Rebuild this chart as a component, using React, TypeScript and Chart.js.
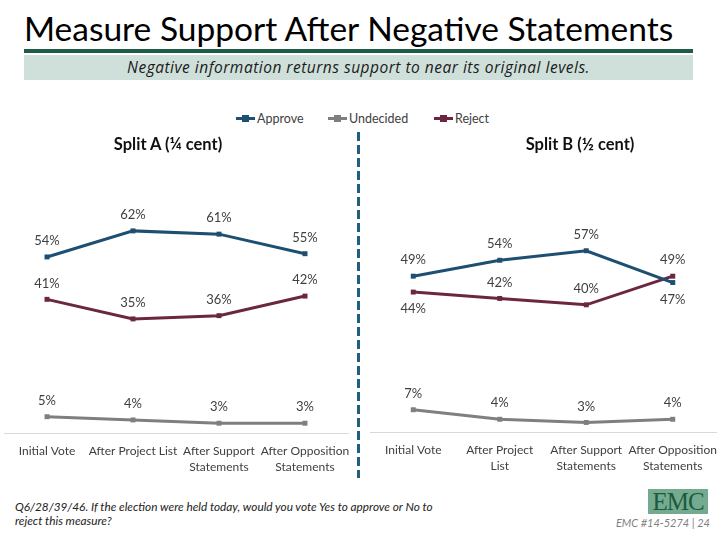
import React, { useEffect, useRef } from "react";
import { Chart, registerables } from "chart.js";

Chart.register(...registerables);

const categoriesA: (string | string[])[] = [
  "Initial Vote",
  "After Project List",
  ["After Support", "Statements"],
  ["After Opposition", "Statements"],
];
const categoriesB: (string | string[])[] = [
  "Initial Vote",
  ["After Project", "List"],
  ["After Support", "Statements"],
  ["After Opposition", "Statements"],
];

const approveA = [54, 62, 61, 55];
const undecidedA = [5, 4, 3, 3];
const rejectA = [41, 35, 36, 42];

const approveB = [49, 54, 57, 47];
const undecidedB = [7, 4, 3, 4];
const rejectB = [44, 42, 40, 49];

// label placement per point (above / below)
const approveBPos = ["above", "above", "above", "below"];
const rejectBPos = ["below", "above", "above", "above"];
const allAbove = ["above", "above", "above", "above"];

const seriesNames = ["Approve", "Undecided", "Reject"];
const seriesColors = ["#1d4f73", "#7f7f7f", "#6b2741"];

const FONT = "Lato, 'Open Sans', sans-serif";

const pointLabelPlugin = {
  id: "pointLabels",
  afterDatasetsDraw(chart: any) {
    const opts = chart.options.plugins.pointLabels || {};
    const positions: string[][] = opts.positions || [];
    const ctx = chart.ctx;
    ctx.save();
    ctx.font = `13px ${FONT}`;
    ctx.fillStyle = "#404040";
    ctx.textAlign = "center";
    ctx.textBaseline = "middle";
    chart.data.datasets.forEach((ds: any, i: number) => {
      const meta = chart.getDatasetMeta(i);
      meta.data.forEach((pt: any, j: number) => {
        const pos = (positions[i] && positions[i][j]) || "above";
        const y = pos === "below" ? pt.y + 17 : pt.y - 16;
        ctx.fillText(`${ds.data[j]}%`, pt.x, y);
      });
    });
    ctx.restore();
  },
};

function LineChart(props: {
  labels: (string | string[])[];
  series: number[][];
  positions: string[][];
  width: number;
  height: number;
  padTop: number;
  padRight: number;
  style: React.CSSProperties;
}) {
  const ref = useRef<HTMLCanvasElement | null>(null);
  useEffect(() => {
    if (!ref.current) return;
    const chart = new Chart(ref.current, {
      type: "line",
      data: {
        labels: props.labels as any,
        datasets: props.series.map((d, i) => ({
          label: seriesNames[i],
          data: d,
          borderColor: seriesColors[i],
          backgroundColor: seriesColors[i],
          borderWidth: 3,
          pointStyle: "rect",
          pointRadius: 3.5,
          pointBorderWidth: 0,
          tension: 0,
          fill: false,
        })),
      },
      options: {
        animation: false,
        responsive: false,
        layout: { padding: { top: props.padTop, right: props.padRight, left: 0, bottom: 0 } },
        plugins: {
          legend: { display: false },
          tooltip: { enabled: false },
          pointLabels: { positions: props.positions },
        } as any,
        scales: {
          x: {
            offset: true,
            grid: { display: false, drawTicks: false },
            border: { display: true, color: "#d9d9d9", width: 1 },
            ticks: {
              color: "#404040",
              font: { family: FONT, size: 12, lineHeight: 1.35 },
              padding: 10,
              maxRotation: 0,
              minRotation: 0,
              autoSkip: false,
            },
            afterFit: (scale: any) => {
              scale.height = 50;
              scale.paddingLeft = 0;
              scale.paddingRight = 0;
            },
          },
          y: {
            display: false,
            min: 0,
            max: 100,
          },
        },
      },
      plugins: [pointLabelPlugin],
    });
    return () => chart.destroy();
  }, []);
  return (
    <canvas
      ref={ref}
      width={props.width}
      height={props.height}
      style={{ position: "absolute", width: props.width, height: props.height, ...props.style }}
    />
  );
}

function LegendItem(props: { left: number; color: string; text: string }) {
  return (
    <div
      style={{
        position: "absolute",
        left: props.left,
        top: 110,
        height: 16,
        display: "flex",
        alignItems: "center",
        fontSize: 12.5,
        color: "#404040",
        fontFamily: FONT,
      }}
    >
      <div style={{ position: "relative", width: 19, height: 16, marginRight: 2 }}>
        <div style={{ position: "absolute", left: 0, top: 7, width: 19, height: 2.5, background: props.color }} />
        <div style={{ position: "absolute", left: 6, top: 4.5, width: 7, height: 7, background: props.color }} />
      </div>
      <span>{props.text}</span>
    </div>
  );
}

export default function App() {
  return (
    <div
      style={{
        position: "absolute",
        left: 0,
        top: 0,
        width: 720,
        height: 540,
        background: "#ffffff",
        overflow: "hidden",
        fontFamily: FONT,
      }}
    >
      <div
        style={{
          position: "absolute",
          left: 24,
          top: 8,
          height: 40,
          lineHeight: "40px",
          fontSize: 33.5,
          fontWeight: 400,
          color: "#000",
          whiteSpace: "nowrap",
        }}
      >
        Measure Support After Negative Statements
      </div>
      <div style={{ position: "absolute", left: 24, top: 49, width: 669, height: 4, background: "#1e5c45" }} />
      <div
        style={{
          position: "absolute",
          left: 24,
          top: 55,
          width: 669,
          height: 25,
          background: "#cfe0da",
          textAlign: "center",
          lineHeight: "25px",
          fontSize: 15.5,
          fontFamily: "'Open Sans', sans-serif",
          fontStyle: "italic",
          letterSpacing: 0.5,
          color: "#1a1a1a",
          whiteSpace: "nowrap",
        }}
      >
        Negative information returns support to near its original levels.
      </div>

      <LegendItem left={236} color={seriesColors[0]} text="Approve" />
      <LegendItem left={328} color={seriesColors[1]} text="Undecided" />
      <LegendItem left={434} color={seriesColors[2]} text="Reject" />

      <LineChart
        labels={categoriesA}
        series={[approveA, undecidedA, rejectA]}
        positions={[allAbove, allAbove, allAbove]}
        width={352}
        height={393}
        padTop={17}
        padRight={4}
        style={{ left: 0, top: 90 }}
      />
      <LineChart
        labels={categoriesB}
        series={[approveB, undecidedB, rejectB]}
        positions={[approveBPos, allAbove, rejectBPos]}
        width={354}
        height={392}
        padTop={24}
        padRight={0}
        style={{ left: 366, top: 90 }}
      />

      <div
        style={{
          position: "absolute",
          left: 108,
          top: 134,
          width: 120,
          textAlign: "center",
          fontSize: 16.5,
          fontWeight: 700,
          color: "#111",
          whiteSpace: "nowrap",
        }}
      >
        Split A (¼ cent)
      </div>
      <div
        style={{
          position: "absolute",
          left: 520,
          top: 134,
          width: 120,
          textAlign: "center",
          fontSize: 16.5,
          fontWeight: 700,
          color: "#111",
          whiteSpace: "nowrap",
        }}
      >
        Split B (½ cent)
      </div>

      <div
        style={{
          position: "absolute",
          left: 357,
          top: 132,
          width: 3,
          height: 346,
          background: "repeating-linear-gradient(to bottom, #215f80 0px, #215f80 9px, transparent 9px, transparent 13px)",
        }}
      />

      <div
        style={{
          position: "absolute",
          left: 15,
          top: 500,
          fontSize: 11.8,
          lineHeight: "14px",
          fontStyle: "italic",
          color: "#222",
          whiteSpace: "nowrap",
        }}
      >
        Q6/28/39/46. If the election were held today, would you vote Yes to approve or No to
        <br />
        reject this measure?
      </div>

      <div
        style={{
          position: "absolute",
          left: 648,
          top: 489,
          width: 60,
          height: 25,
          background: "#74ab90",
          color: "#1b5a3e",
          fontFamily: "'Liberation Serif', 'DejaVu Serif', serif",
          fontSize: 25,
          lineHeight: "25px",
          textAlign: "center",
          letterSpacing: -1,
        }}
      >
        EMC
      </div>
      <div
        style={{
          position: "absolute",
          right: 10,
          top: 516,
          fontSize: 11,
          lineHeight: "14px",
          fontStyle: "italic",
          color: "#7f7f7f",
          whiteSpace: "nowrap",
        }}
      >
        EMC #14-5274 | 24
      </div>
    </div>
  );
}
